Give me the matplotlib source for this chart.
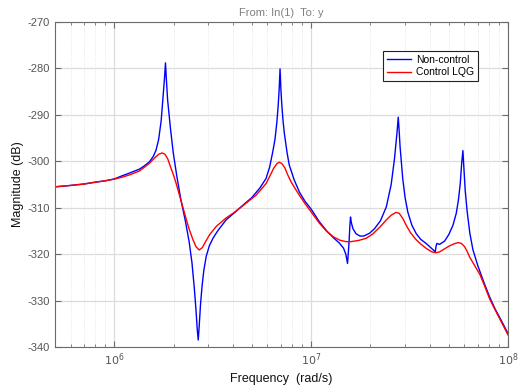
import matplotlib
matplotlib.use("Agg")
import matplotlib.pyplot as plt
from matplotlib.ticker import LogLocator, NullFormatter

plt.rcParams['font.family'] = ['Liberation Sans', 'DejaVu Sans']
plt.rcParams['axes.unicode_minus'] = False

# Non-control (blue) response: frequency (rad/s), magnitude (dB)
freq_nc = [5.0e5, 6.0e5, 7.0e5, 8.0e5, 9.0e5, 1.0e6, 1.1e6, 1.2e6, 1.34e6, 1.42e6,
           1.51e6, 1.58e6, 1.63e6, 1.68e6, 1.73e6, 1.77e6, 1.80e6, 1.82e6, 1.84e6, 1.866e6,
           1.93e6, 1.995e6, 2.08e6, 2.18e6, 2.30e6, 2.40e6, 2.48e6, 2.55e6, 2.60e6, 2.64e6,
           2.67e6, 2.70e6, 2.74e6, 2.79e6, 2.85e6, 2.93e6, 3.04e6, 3.17e6, 3.35e6, 3.70e6,
           4.1e6, 4.49e6, 5.0e6, 5.5e6, 5.9e6, 6.15e6, 6.38e6, 6.55e6, 6.7e6, 6.8e6,
           6.88e6, 6.95e6, 7.02e6, 7.1e6, 7.2e6, 7.31e6, 7.55e6, 7.74e6, 8.2e6, 8.71e6,
           9.3e6, 1.0e7, 1.1e7, 1.2e7, 1.3e7, 1.39e7, 1.46e7, 1.5e7, 1.53e7, 1.555e7,
           1.575e7, 1.585e7, 1.6e7, 1.63e7, 1.69e7, 1.77e7, 1.85e7, 1.98e7, 2.1e7, 2.25e7,
           2.41e7, 2.55e7, 2.65e7, 2.73e7, 2.77e7, 2.80e7, 2.83e7, 2.92e7, 3.0e7, 3.1e7,
           3.25e7, 3.42e7, 3.6e7, 3.84e7, 4.1e7, 4.27e7, 4.31e7, 4.35e7, 4.49e7, 4.76e7,
           5.0e7, 5.25e7, 5.46e7, 5.6e7, 5.72e7, 5.82e7, 5.9e7, 5.97e7, 6.06e7, 6.2e7,
           6.4e7, 6.63e7, 7.0e7, 7.5e7, 8.06e7, 8.6e7, 9.3e7, 1.0e8]
mag_nc = [-305.5, -305.2, -304.9, -304.5, -304.2, -303.8, -303.1, -302.5, -301.7, -301.0,
          -300.1, -298.9, -297.6, -295.3, -291.3, -286.0, -282.0, -278.8, -282.5, -286.8,
          -293.0, -298.3, -303.3, -308.3, -313.0, -317.3, -321.8, -327.3, -332.0, -336.3,
          -338.5, -335.5, -331.0, -327.0, -323.5, -320.5, -318.2, -316.6, -315.0, -312.6,
          -311.0, -309.5, -307.8, -305.7, -303.7, -301.3, -298.0, -295.3, -291.5, -288.0,
          -284.5, -280.1, -284.5, -288.0, -291.3, -294.0, -298.2, -300.8, -304.0, -306.6,
          -308.6, -310.3, -313.0, -315.0, -316.5, -317.6, -318.7, -320.0, -322.0, -318.0,
          -313.5, -312.0, -313.2, -314.5, -315.6, -316.1, -316.1, -315.5, -314.5, -312.8,
          -309.8, -305.0, -299.5, -293.8, -290.5, -293.5, -296.9, -303.8, -307.8, -311.0,
          -313.8, -315.6, -316.8, -317.7, -318.8, -319.5, -318.3, -317.7, -317.9, -317.2,
          -315.8, -313.8, -311.2, -308.3, -304.8, -300.3, -297.7, -301.5, -306.2, -310.8,
          -315.5, -319.0, -322.3, -325.8, -329.2, -331.8, -334.5, -337.1]

# Control LQG (red) response
freq_lqg = [5.0e5, 6.0e5, 7.0e5, 8.0e5, 9.0e5, 1.0e6, 1.1e6, 1.2e6, 1.34e6, 1.42e6,
            1.51e6, 1.6e6, 1.68e6, 1.75e6, 1.81e6, 1.87e6, 1.93e6, 2.0e6, 2.06e6, 2.14e6,
            2.22e6, 2.31e6, 2.4e6, 2.5e6, 2.6e6, 2.7e6, 2.8e6, 2.9e6, 3.05e6, 3.3e6,
            3.7e6, 4.1e6, 4.49e6, 5.25e6, 5.9e6, 6.2e6, 6.45e6, 6.7e6, 6.9e6, 7.1e6,
            7.35e6, 7.6e6, 7.9e6, 8.3e6, 8.71e6, 9.3e6, 1.0e7, 1.1e7, 1.2e7, 1.3e7,
            1.4e7, 1.5e7, 1.6e7, 1.76e7, 1.9e7, 2.05e7, 2.22e7, 2.4e7, 2.55e7, 2.7e7,
            2.8e7, 2.92e7, 3.05e7, 3.2e7, 3.4e7, 3.6e7, 3.85e7, 4.1e7, 4.3e7, 4.5e7,
            4.7e7, 5.0e7, 5.3e7, 5.6e7, 5.8e7, 6.02e7, 6.2e7, 6.4e7, 6.8e7, 7.2e7,
            7.6e7, 8.06e7, 8.6e7, 9.3e7, 1.0e8]
mag_lqg = [-305.5, -305.2, -304.9, -304.5, -304.2, -303.85, -303.4, -302.9, -302.1, -301.3,
           -300.4, -299.3, -298.5, -298.2, -298.5, -299.5, -301.2, -303.0, -304.7, -307.2,
           -309.6, -312.2, -314.6, -316.7, -318.4, -319.1, -318.6, -317.4, -315.8, -314.0,
           -312.2, -310.9, -309.6, -307.3, -304.8, -303.0, -301.5, -300.5, -300.2, -300.5,
           -301.4, -302.9, -304.4, -305.9, -307.3, -309.1, -310.9, -313.3, -315.1, -316.3,
           -317.0, -317.3, -317.3, -317.0, -316.6, -315.7, -314.3, -312.7, -311.6, -311.0,
           -311.2, -312.3, -313.9, -315.4, -316.8, -317.8, -318.8, -319.5, -319.7, -319.5,
           -319.0, -318.3, -317.8, -317.5, -317.7, -318.4, -319.4, -320.7, -322.6, -324.4,
           -326.8, -329.6, -332.0, -334.8, -337.4]

y_ticks = [-340, -330, -320, -310, -300, -290, -280, -270]
x_ticks = [1e6, 1e7, 1e8]
x_tick_labels = [r'$10^{6}$', r'$10^{7}$', r'$10^{8}$']

fig = plt.figure(figsize=(5.22, 3.86), dpi=100)
ax = fig.add_axes([0.1054, 0.101, 0.8678, 0.842])

ax.semilogx(freq_nc, mag_nc, color='#0000FF', lw=1.0, label='Non-control')
ax.semilogx(freq_lqg, mag_lqg, color='#FF0000', lw=1.0, label='Control LQG')

ax.set_xlim(5e5, 1e8)
ax.set_ylim(-340, -270)
ax.set_yticks(y_ticks)
ax.set_xticks(x_ticks)
ax.set_xticklabels(x_tick_labels)
ax.xaxis.set_minor_locator(LogLocator(base=10, subs=[2, 3, 4, 5, 6, 7, 8, 9], numticks=20))
ax.xaxis.set_minor_formatter(NullFormatter())

ax.grid(True, which='major', color='#dcdcdc', linestyle='-', linewidth=0.9)
ax.grid(True, which='minor', axis='x', color='#e2e2e2', linestyle=':', linewidth=0.6)
ax.set_axisbelow(True)

for s in ax.spines.values():
    s.set_color('#6b6b6b')
    s.set_linewidth(0.8)
ax.tick_params(which='both', direction='in', top=True, right=True, colors='#6b6b6b',
               labelcolor='#555555', labelsize=8)
ax.tick_params(which='major', length=4)
ax.tick_params(which='minor', length=2.5)

ax.set_xlabel('Frequency  (rad/s)', fontsize=9, color='#111111', labelpad=3)
ax.set_ylabel('Magnitude (dB)', fontsize=9, color='#111111', labelpad=3)
ax.set_title('From: In(1)  To: y', fontsize=8, color='#808080', pad=4)

leg = ax.legend(loc='upper left', bbox_to_anchor=(0.724, 0.911), borderaxespad=0,
                fontsize=7.5, frameon=True, fancybox=False, framealpha=1,
                edgecolor='#222222', handlelength=2.3, handletextpad=0.5,
                borderpad=0.35, labelspacing=0.25)
leg.get_frame().set_linewidth(0.8)

fig.savefig('out.png', dpi=100)
